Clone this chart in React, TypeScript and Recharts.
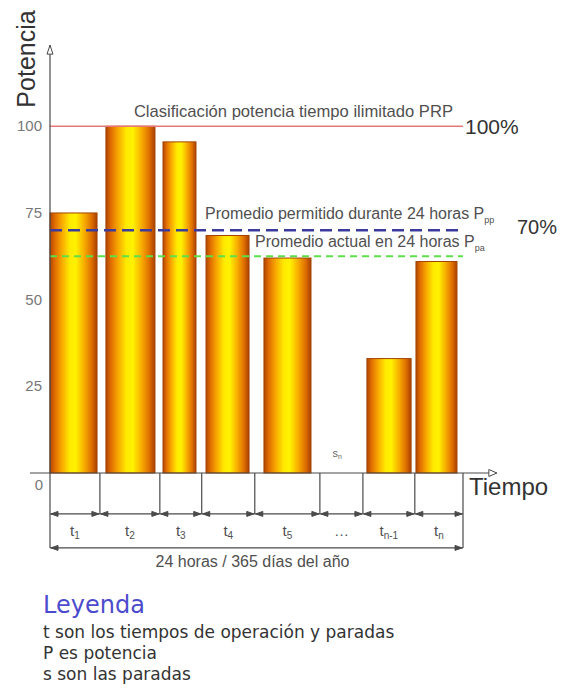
import React from 'react';
import { ComposedChart, XAxis, YAxis, ReferenceLine, ReferenceArea } from 'recharts';

// Operating profile over one day (minutes from 00:00)
const segmentBase = ['t', 't', 't', 't', 't', '…', 't', 't'];
const segmentSub = ['1', '2', '3', '4', '5', '', 'n-1', 'n'];
const segmentMinutes = [174, 209, 146, 185, 227, 150, 181, 168];
const runStart = [0, 195, 394, 544, 746, null, 1105, 1276];
const runEnd = [164, 366, 509, 694, 910, null, 1259, 1419];
const powerPct = [75, 100, 95.5, 68.5, 62, null, 33, 61];

const yTicks = [0, 25, 50, 75, 100];
const ratedPct = 100;
const allowedAvgPct = 70;
const actualAvgPct = 62.5;
const dayMinutes = 1440;

const boundaries = segmentMinutes.reduce<number[]>((acc, m) => [...acc, acc[acc.length - 1] + m], [0]);
const rows = segmentMinutes.map((m, i) => ({
  start: boundaries[i],
  end: boundaries[i + 1],
  mid: (boundaries[i] + boundaries[i + 1]) / 2,
  base: segmentBase[i],
  sub: segmentSub[i],
  runStart: runStart[i],
  runEnd: runEnd[i],
  power: powerPct[i],
}));
const stopRow = rows.find((r) => r.power == null)!;

// Dimension rows drawn under the time axis (in power units below zero)
const DIM_ROW = -11.8;
const TOTAL_ROW = -21.6;

const W = 561;
const H = 698;
const INK = '#4a4a4a';
const TEXT = '#505050';
const SANS = '"Liberation Sans", Arial, sans-serif';

const arrowHead = (tx: number, ty: number, dx: number, dy: number, key: string, open = false, len = 7, half = 2.5) => {
  const bx = tx - dx * len;
  const by = ty - dy * len;
  const px = -dy * half;
  const py = dx * half;
  return (
    <polygon
      key={key}
      points={`${tx},${ty} ${bx + px},${by + py} ${bx - px},${by - py}`}
      fill={open ? '#fff' : INK}
      stroke={INK}
      strokeWidth={1}
    />
  );
};

const CylinderBar = (p: any) => (
  <rect x={p.x} y={p.y} width={p.width} height={p.height} fill="url(#cylinderFill)" stroke="#a24500" strokeWidth={1} />
);

const PlainLine = (p: any) => <line x1={p.x1} y1={p.y1} x2={p.x2} y2={p.y2} stroke={INK} strokeWidth={1.2} />;

const SegmentDim = (row: (typeof rows)[number]) => (p: any) => (
  <g>
    <line x1={p.x1} y1={p.y1} x2={p.x2} y2={p.y2} stroke={INK} strokeWidth={1.2} />
    {arrowHead(p.x1 + 1, p.y1, -1, 0, 's')}
    {arrowHead(p.x2 - 1, p.y2, 1, 0, 'e')}
    <text x={(p.x1 + p.x2) / 2} y={p.y1 + 22} fontFamily={SANS} fontSize={15} fill={TEXT} textAnchor="middle">
      {row.base}
      {row.sub && (
        <tspan fontSize={10} dy={3}>
          {row.sub}
        </tspan>
      )}
    </text>
  </g>
);

const TotalDim = (p: any) => (
  <g>
    <line x1={p.x1} y1={p.y1} x2={p.x2} y2={p.y2} stroke={INK} strokeWidth={1.2} />
    {arrowHead(p.x1 + 1, p.y1, -1, 0, 's')}
    {arrowHead(p.x2 - 1, p.y2, 1, 0, 'e')}
    <text x={(p.x1 + p.x2) / 2 - 4} y={p.y1 + 19} fontFamily={SANS} fontSize={16} fill={TEXT} textAnchor="middle">
      24 horas / 365 días del año
    </text>
  </g>
);

const TimeAxisLine = (p: any) => (
  <g>
    <line x1={p.x1} y1={p.y1} x2={p.x2} y2={p.y2} stroke={INK} strokeWidth={1.2} />
    {arrowHead(p.x2, p.y2, 1, 0, 'e', true, 8, 3.5)}
  </g>
);

const PowerAxisLine = (p: any) => {
  const topY = Math.min(p.y1, p.y2);
  const botY = Math.max(p.y1, p.y2);
  return (
    <g>
      <line x1={p.x1} y1={botY} x2={p.x1} y2={topY} stroke={INK} strokeWidth={1.2} />
      {arrowHead(p.x1, topY, 0, -1, 'e', true, 9, 3)}
    </g>
  );
};

const PowerTick = (p: any) => {
  const v = p.payload.value;
  const zero = v === 0;
  return (
    <text x={zero ? p.x + 1 : p.x} y={zero ? p.y + 17 : p.y + 5} textAnchor="end" fontFamily={SANS} fontSize={15} fill="#777">
      {v}
    </text>
  );
};

const RatedLabel = (p: any) => {
  const vb = p.viewBox;
  return (
    <g fontFamily={SANS}>
      <text x={vb.x + vb.width - 10} y={vb.y - 9} textAnchor="end" fontSize={16.6} fill={TEXT}>
        Clasificación potencia tiempo ilimitado PRP
      </text>
      <text x={vb.x + vb.width + 2} y={vb.y + 8} fontSize={21} fill="#333">
        100%
      </text>
    </g>
  );
};

const AllowedLabel = (p: any) => {
  const vb = p.viewBox;
  return (
    <g fontFamily={SANS}>
      <text x={205} y={vb.y - 11} fontSize={16} fill={TEXT}>
        Promedio permitido durante 24 horas P
        <tspan fontSize={9} dy={4}>pp</tspan>
      </text>
      <text x={vb.x + vb.width + 54} y={vb.y + 4} fontSize={20} fill="#333">
        70%
      </text>
    </g>
  );
};

const ActualLabel = (p: any) => {
  const vb = p.viewBox;
  return (
    <text x={255} y={vb.y - 9} fontFamily={SANS} fontSize={16} fill={TEXT}>
      Promedio actual en 24 horas P
      <tspan fontSize={9} dy={4}>pa</tspan>
    </text>
  );
};

const StopLabel = (p: any) => {
  const vb = p.viewBox;
  return (
    <text x={vb.x + vb.width / 2 - 9} y={vb.y + vb.height - 16} fontFamily={SANS} fontSize={11} fill="#666">
      s<tspan fontSize={7} dy={2}>n</tspan>
    </text>
  );
};

export default function App() {
  const ovf = 'visible' as const;
  return (
    <div style={{ position: 'absolute', left: 0, top: 0, width: W, height: H, background: '#fff' }}>
      <svg width={0} height={0} style={{ position: 'absolute' }}>
        <defs>
          <linearGradient id="cylinderFill" x1="0" y1="0" x2="1" y2="0">
            <stop offset="0%" stopColor="#b04400" />
            <stop offset="10%" stopColor="#e06c00" />
            <stop offset="25%" stopColor="#f8a800" />
            <stop offset="42%" stopColor="#ffea00" />
            <stop offset="55%" stopColor="#fff200" />
            <stop offset="72%" stopColor="#f8b000" />
            <stop offset="88%" stopColor="#e07000" />
            <stop offset="100%" stopColor="#a84000" />
          </linearGradient>
        </defs>
      </svg>
      <ComposedChart width={W} height={H} data={rows} margin={{ top: 50, right: 98, bottom: 225, left: 10 }}>
        <XAxis type="number" dataKey="mid" domain={[0, dayMinutes]} hide allowDataOverflow />
        <YAxis
          type="number"
          domain={[0, 122]}
          ticks={yTicks}
          interval={0}
          width={40}
          axisLine={false}
          tickLine={false}
          tick={<PowerTick />}
          allowDataOverflow
        />

        {rows
          .filter((r) => r.power != null)
          .map((r, i) => (
            <ReferenceArea
              key={`run-${i}`}
              x1={r.runStart as number}
              x2={r.runEnd as number}
              y1={0}
              y2={r.power as number}
              shape={CylinderBar}
              ifOverflow={ovf}
            />
          ))}
        <ReferenceArea x1={stopRow.start} x2={stopRow.end} y1={0} y2={8} fillOpacity={0} strokeOpacity={0} label={StopLabel} ifOverflow={ovf} />

        <ReferenceLine y={ratedPct} stroke="#e87878" strokeWidth={1.6} label={RatedLabel} ifOverflow={ovf} />
        <ReferenceLine y={allowedAvgPct} stroke="#3b3b9e" strokeWidth={2.6} strokeDasharray="12 6" label={AllowedLabel} ifOverflow={ovf} />
        <ReferenceLine y={actualAvgPct} stroke="#5ee04a" strokeWidth={2} strokeDasharray="7 5" label={ActualLabel} ifOverflow={ovf} />

        {boundaries.map((b, i) => (
          <ReferenceLine
            key={`tick-${i}`}
            segment={[
              { x: b, y: 0 },
              { x: b, y: i === 0 || i === boundaries.length - 1 ? TOTAL_ROW : DIM_ROW },
            ]}
            shape={PlainLine}
            ifOverflow={ovf}
          />
        ))}
        {rows.map((r, i) => (
          <ReferenceLine
            key={`dim-${i}`}
            segment={[
              { x: r.start, y: DIM_ROW },
              { x: r.end, y: DIM_ROW },
            ]}
            shape={SegmentDim(r)}
            ifOverflow={ovf}
          />
        ))}
        <ReferenceLine
          segment={[
            { x: 0, y: TOTAL_ROW },
            { x: dayMinutes, y: TOTAL_ROW },
          ]}
          shape={TotalDim}
          ifOverflow={ovf}
        />
        <ReferenceLine
          segment={[
            { x: -70, y: 0 },
            { x: 1558, y: 0 },
          ]}
          shape={TimeAxisLine}
          ifOverflow={ovf}
        />
        <ReferenceLine
          segment={[
            { x: 0, y: 0 },
            { x: 0, y: 123.4 },
          ]}
          shape={PowerAxisLine}
          ifOverflow={ovf}
        />
      </ComposedChart>
      <svg width={W} height={H} style={{ position: 'absolute', left: 0, top: 0, pointerEvents: 'none' }}>
        <text transform="translate(35,59) rotate(-90)" textAnchor="middle" fontFamily={SANS} fontSize={25} fill="#333">
          Potencia
        </text>
        <text x={469} y={495} fontFamily={SANS} fontSize={24} fill="#333">
          Tiempo
        </text>
        <g fontFamily='"DejaVu Sans", Verdana, sans-serif'>
          <text x={43} y={613} fontSize={24} fill="#4b4bcc">
            Leyenda
          </text>
          <text x={43} y={638} fontSize={17} fill="#333">
            t son los tiempos de operación y paradas
          </text>
          <text x={43} y={659} fontSize={17} fill="#333">
            P es potencia
          </text>
          <text x={43} y={680} fontSize={17} fill="#333">
            s son las paradas
          </text>
        </g>
      </svg>
    </div>
  );
}
